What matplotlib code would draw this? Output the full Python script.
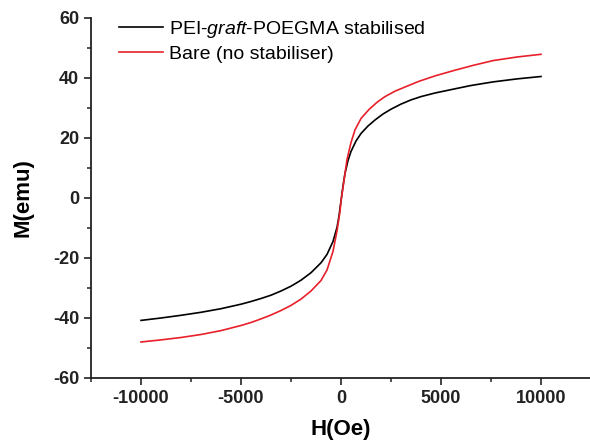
import matplotlib
matplotlib.use("Agg")
import matplotlib.pyplot as plt
import numpy as np
from matplotlib.ticker import MultipleLocator

plt.rcParams['font.family'] = ['Liberation Sans', 'DejaVu Sans']
plt.rcParams['mathtext.fontset'] = 'custom'
plt.rcParams['mathtext.rm'] = 'Liberation Sans'
plt.rcParams['mathtext.it'] = 'Liberation Sans:italic'
plt.rcParams['axes.unicode_minus'] = False

# field (Oe) and magnetisation (emu)
h_peg = [-10000, -9000, -8000, -7000, -6000, -5000, -4500, -4000, -3500,
         -3000, -2500, -2000, -1500, -1000, -700, -400, -200, -100, 0,
         100, 200, 350, 500, 750, 1000, 1350, 1700, 2100, 2500, 3000, 3500,
         4000, 4700, 5700, 6500, 7600, 8800, 10000]
m_peg = [-40.8, -40.0, -39.1, -38.1, -36.9, -35.4, -34.5, -33.5, -32.4,
         -31.0, -29.4, -27.4, -24.9, -21.6, -18.8, -14.5, -9.8, -6.0, -1.0,
         4.0, 8.2, 12.5, 15.5, 19.0, 21.5, 24.0, 26.0, 28.0, 29.6, 31.3, 32.7,
         33.8, 35.0, 36.4, 37.5, 38.7, 39.7, 40.5]

h_bare = [-10000, -9000, -8000, -7000, -6000, -5000, -4500, -4000, -3500,
          -3000, -2500, -2000, -1500, -1000, -700, -400, -200, -50, 0,
          100, 300, 500, 700, 1000, 1400, 1800, 2200, 2700, 3200, 3900, 4700,
          5700, 6600, 7600, 8800, 10000]
m_bare = [-48.0, -47.3, -46.5, -45.5, -44.2, -42.5, -41.5, -40.3, -39.0,
          -37.5, -35.8, -33.7, -31.0, -27.5, -24.0, -17.8, -11.0, -4.5, -1.0,
          3.5, 12.8, 18.5, 22.7, 26.5, 29.5, 31.9, 33.8, 35.6, 37.0, 38.9, 40.7,
          42.6, 44.2, 45.8, 47.0, 47.9]

label_peg = r'PEI-$\it{graft}$-POEGMA stabilised'
label_bare = 'Bare (no stabiliser)'

fig = plt.figure(figsize=(5.9, 4.42), dpi=100)
ax = fig.add_axes([91 / 590, 64 / 442, 500 / 590, 360 / 442])

ax.plot(h_peg, m_peg, color='black', lw=1.2, label=label_peg)
ax.plot(h_bare, m_bare, color='#e8202a', lw=1.2, label=label_bare)

ax.set_xlim(-12500, 12500)
ax.set_ylim(-60, 60)
ax.xaxis.set_major_locator(MultipleLocator(5000))
ax.xaxis.set_minor_locator(MultipleLocator(2500))
ax.yaxis.set_major_locator(MultipleLocator(20))
ax.yaxis.set_minor_locator(MultipleLocator(10))

for side in ['top', 'right']:
    ax.spines[side].set_visible(False)
for side in ['left', 'bottom']:
    ax.spines[side].set_linewidth(1.3)
    ax.spines[side].set_color('#222222')

ax.tick_params(which='major', direction='out', length=5, width=1.2, labelsize=13, colors='#222222')
ax.tick_params(which='minor', direction='out', length=3, width=1.1, colors='#222222')
for lab in ax.get_xticklabels() + ax.get_yticklabels():
    lab.set_fontweight('bold')

ax.set_xlabel('H(Oe)', fontsize=16, fontweight='bold', labelpad=9)
ax.set_ylabel('M(emu)', fontsize=16, fontweight='bold', labelpad=14)

ax.legend(loc='upper left', bbox_to_anchor=(0.056, 0.997), frameon=False,
          fontsize=14, borderpad=0, borderaxespad=0, handlelength=2.25,
          handletextpad=0.3, labelspacing=0.25)

fig.savefig('out.png', dpi=100)
